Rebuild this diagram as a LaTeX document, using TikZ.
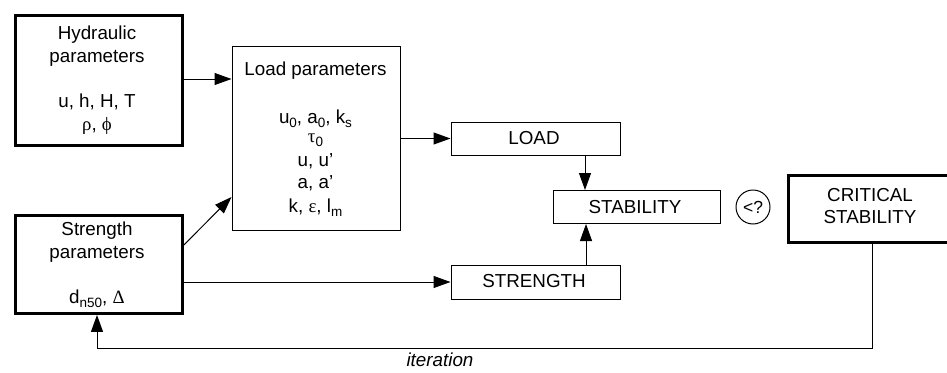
\documentclass[tikz,border=0pt]{standalone}
\usepackage{fontspec}
\setmainfont{Liberation Sans}
\newfontfamily\grk{Liberation Serif}
\usetikzlibrary{arrows.meta}
% lowered small index, as in u_0
\newcommand\lo[1]{\raisebox{-4.5pt}{\fontsize{13.5}{13.5}\selectfont #1}}
\newcommand\gk[1]{{\grk #1}}
\begin{document}
\begin{tikzpicture}[x=1pt,y=-1pt,
  font=\fontsize{18.8}{22}\selectfont,
  thinbox/.style={draw, line width=1pt, inner sep=0pt, anchor=north west},
  thickbox/.style={draw, line width=3.3pt, inner sep=0pt, anchor=north west},
  lbl/.style={anchor=base, inner sep=0pt},
  arr/.style={line width=1pt, -{Triangle[length=17pt,width=12pt]}}]
\useasboundingbox (0,0) rectangle (947,372);

% boxes
\node[thickbox, minimum width=167pt, minimum height=130pt] (hyd) at (13.6,13.6) {};
\node[thickbox, minimum width=167pt, minimum height=98pt] (sp) at (13.6,213.6) {};
\node[thinbox, minimum width=168pt, minimum height=184pt] (loadp) at (231.5,45.5) {};
\node[thinbox, minimum width=169pt, minimum height=33pt] (load) at (450.5,121.5) {};
\node[thinbox, minimum width=167pt, minimum height=33pt] (stab) at (552.5,190) {};
\node[thinbox, minimum width=169pt, minimum height=34pt] (strg) at (450.5,264.5) {};
\node[thickbox, minimum width=175pt, minimum height=67pt] (crit) at (786.6,173.6) {};
\node[draw, circle, line width=1pt, minimum size=34pt, inner sep=0pt,
      font=\fontsize{17.5}{17.5}\selectfont] (cmp) at (753,207) {<?};

% hydraulic parameters
\node[lbl] (h1) at (97,39) {Hydraulic};
\node[lbl] (h2) at (97,62) {parameters};
\node[lbl] (h3) at (97,107) {u, h, H, T};
\node[lbl] (h4) at (97,130) {\gk{ρ}, \gk{ϕ}};

% strength parameters
\node[lbl] (s1) at (97,235) {Strength};
\node[lbl] (s2) at (97,258) {parameters};
\node[lbl] (s3) at (97,303) {d\lo{n50}, \gk{Δ}};

% load parameters
\node[lbl] (l1) at (315.5,75) {Load parameters};
\node[lbl] (l2) at (315.5,123) {u\lo{0}, a\lo{0}, k\lo{s}};
\node[lbl] (l3) at (315.5,142) {\gk{τ}\lo{0}};
\node[lbl] (l4) at (315.5,166) {u, u'};
\node[lbl] (l5) at (315.5,188) {a, a'};
\node[lbl] (l6) at (315.5,212) {k, \gk{ε}, l\lo{m}};

% single-line boxes
\node[lbl] (t1) at (534,144) {LOAD};
\node[lbl] (t2) at (635,213) {STABILITY};
\node[lbl] (t3) at (534,287) {STRENGTH};
\node[lbl] (c1) at (870,201) {CRITICAL};
\node[lbl] (c2) at (870,223) {STABILITY};

% connectors
\draw[arr] (hyd.east |- 0,79) -- (loadp.west |- 0,79);
\draw[arr] (sp.east |- 0,245) -- (loadp.west |- 0,197);
\draw[arr] (loadp.east |- load.west) -- (load.west);
\draw[arr] (load.south -| 585,0) -- (stab.north -| 585,0);
\draw[arr] (strg.north -| 586,0) -- (stab.south -| 586,0);
\draw[arr] (sp.east |- strg.west) -- (strg.west);
\coordinate (r1) at (872,348);
\coordinate (r2) at (97,348);
\draw[arr] (crit.south -| r1) -- (r1) -- (r2) -- (sp.south -| r2);
\node[lbl, font=\fontsize{18.8}{22}\selectfont\itshape] (it) at (440,366) {iteration};
\end{tikzpicture}
\end{document}
